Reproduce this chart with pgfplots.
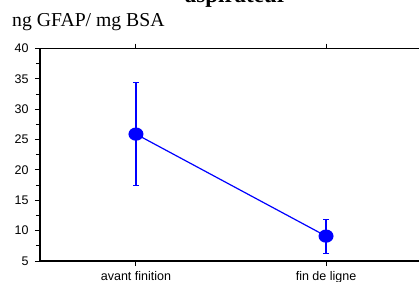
\documentclass[border=0pt]{standalone}
\usepackage{pgfplots}
\pgfplotsset{compat=1.18}
\usepackage{fontspec}
\setmainfont{Liberation Sans}
\newfontfamily\seriffont{Liberation Serif}
\definecolor{pblue}{RGB}{0,0,255}
\begin{document}
\begin{tikzpicture}
\begin{axis}[
  at={(0,0)}, anchor=south west,
  scale only axis,
  width=382bp, height=212.5bp,
  xmin=-0.505, xmax=1.505,
  ymin=5, ymax=40,
  xtick={0,1},
  xticklabels={avant finition, fin de ligne},
  ytick={5,10,...,40},
  minor y tick num=1,
  tick align=outside,
  xtick pos=both,
  ytick pos=left,
  major tick length=5bp,
  minor tick length=4bp,
  axis line style={line width=1.4bp},
  every tick/.style={black, line width=1bp},
  tick label style={font=\fontsize{12.5bp}{14bp}\selectfont},
  yticklabel style={xshift=-3bp},
  xticklabel style={yshift=-1.5bp},
  /pgf/number format/assume math mode=true,
  clip=false,
]
\addplot+[pblue, line width=1.2bp, mark=*, mark size=6bp,
  mark options={pblue, fill=pblue, xscale=1.15},
  error bars/.cd, y dir=both, y explicit,
  error bar style={pblue, line width=1.2bp},
  error mark options={rotate=90, mark size=3bp, pblue, line width=1.2bp}]
  coordinates {
  (0,25.9) +- (0,8.5)
  (1,9.1) +- (0,2.8)
};
\end{axis}
\node[anchor=base, font=\seriffont\bfseries\fontsize{23bp}{26bp}\selectfont] at (196bp,258.5bp) {aspirateur};
\node[anchor=base west, inner sep=0pt, font=\seriffont\fontsize{19.7bp}{22bp}\selectfont] at (-28bp,234bp) {ng GFAP/ mg BSA};
\pgfresetboundingbox
\path[use as bounding box] (-40bp,-21bp) rectangle (379bp,261bp);
\end{tikzpicture}
\end{document}
